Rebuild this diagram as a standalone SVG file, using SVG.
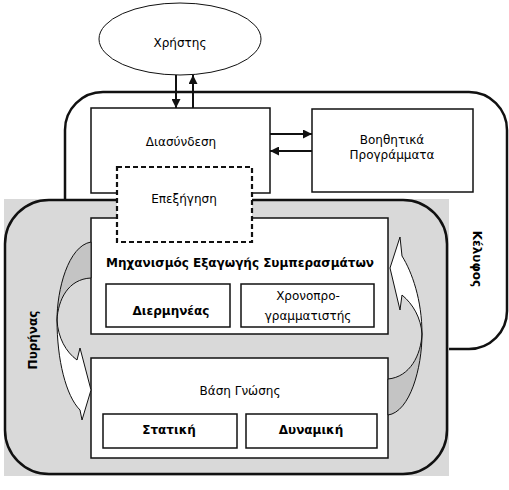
<svg xmlns="http://www.w3.org/2000/svg" width="509" height="490" viewBox="0 0 509 490">
<defs>
<style>
.t{font-family:"DejaVu Sans","Liberation Sans",Arial,sans-serif;font-size:12px;fill:#000;text-anchor:middle}
.b{font-weight:bold}
.box{fill:#fff;stroke:#111;stroke-width:1.5}
.big{fill:none;stroke:#111;stroke-width:2.5}
.con{stroke:#111;stroke-width:2;fill:none}
.cv{stroke:#111;stroke-width:1;stroke-linejoin:round}
</style>
<marker id="ah" viewBox="0 0 10 10" refX="10" refY="5" markerWidth="4.5" markerHeight="4.5" orient="auto" markerUnits="strokeWidth">
<path d="M0,0 L10,5 L0,10 Z" fill="#111"/>
</marker>
</defs>
<rect width="509" height="490" fill="#fff"/>

<g id="shell">
<rect x="65" y="92" width="442" height="257" rx="38" ry="38" fill="#fff" stroke="#111" stroke-width="2.5"/>
<text class="t b" font-size="11.5" transform="translate(477,259) rotate(90)" x="0" y="4">Κέλυφος</text>
</g>

<g id="core">
<rect x="4" y="199" width="445" height="277" fill="#d9d9d9"/>
<rect x="5" y="200" width="442" height="274" rx="44" ry="44" class="big"/>
<text class="t b" font-size="11.5" transform="translate(33,340) rotate(-90)" x="0" y="4">Πυρήνας</text>
</g>

<g id="user">
<ellipse cx="180" cy="39" rx="81" ry="36" fill="#fff" stroke="#111" stroke-width="1"/>
<text class="t" x="180" y="47">Χρήστης</text>
</g>

<g id="interface">
<rect class="box" x="91" y="108" width="179" height="85"/>
<text class="t" x="181" y="146">Διασύνδεση</text>
</g>

<g id="utilities">
<rect class="box" x="312" y="109" width="161" height="83"/>
<text class="t" x="392" y="144">Βοηθητικά</text>
<text class="t" x="392" y="159">Προγράμματα</text>
</g>

<g id="inference">
<rect class="box" x="91" y="218" width="297" height="116"/>
<text class="t b" x="240" y="267">Μηχανισμός Εξαγωγής Συμπερασμάτων</text>
</g>

<g id="interpreter">
<rect class="box" x="106" y="284" width="124" height="43"/>
<text class="t b" x="171" y="315">Διερμηνέας</text>
</g>

<g id="scheduler">
<rect class="box" x="241" y="284" width="133" height="43"/>
<text class="t" x="308" y="300">Χρονοπρο-</text>
<text class="t" x="308" y="320">γραμματιστής</text>
</g>

<g id="knowledge">
<rect class="box" x="91" y="358" width="297" height="100"/>
<text class="t" x="240" y="395">Βάση Γνώσης</text>
</g>

<g id="static">
<rect class="box" x="103" y="414" width="134" height="34"/>
<text class="t b" x="169" y="434">Στατική</text>
</g>

<g id="dynamic">
<rect class="box" x="246" y="414" width="131" height="34"/>
<text class="t b" x="311" y="434">Δυναμική</text>
</g>

<g id="connectors">
<line class="con" x1="176" y1="75" x2="176" y2="108" marker-end="url(#ah)"/>
<line class="con" x1="193" y1="108" x2="193" y2="75" marker-end="url(#ah)"/>
<line class="con" x1="270" y1="134" x2="312" y2="134" marker-end="url(#ah)"/>
<line class="con" x1="312" y1="151" x2="270" y2="151" marker-end="url(#ah)"/>
<path class="cv" fill="#c4c4c4" d="M91,242 C68,246 57,290 57,320 C58,300 68,279 91,278 Z"/>
<path class="cv" fill="#fff" d="M57,320 C58,338 66,352 77,360 L80,348 L91,390 L82,420 L80,410 C66,396 57,360 57,320 Z"/>
<path class="cv" fill="#c4c4c4" d="M388,379 C410,377 421,355 422,334 C422,368 410,412 388,415 Z"/>
<path class="cv" fill="#fff" d="M422,334 C422,300 412,272 402,256 L400,237 L390,268 L400,310 L402,295 C413,304 421,318 422,334 Z"/>
</g>

<g id="explanation">
<rect x="117" y="167" width="135" height="75" fill="#fff" stroke="#111" stroke-width="2.2" stroke-dasharray="5,3"/>
<text class="t" x="184" y="203">Επεξήγηση</text>
</g>
</svg>
